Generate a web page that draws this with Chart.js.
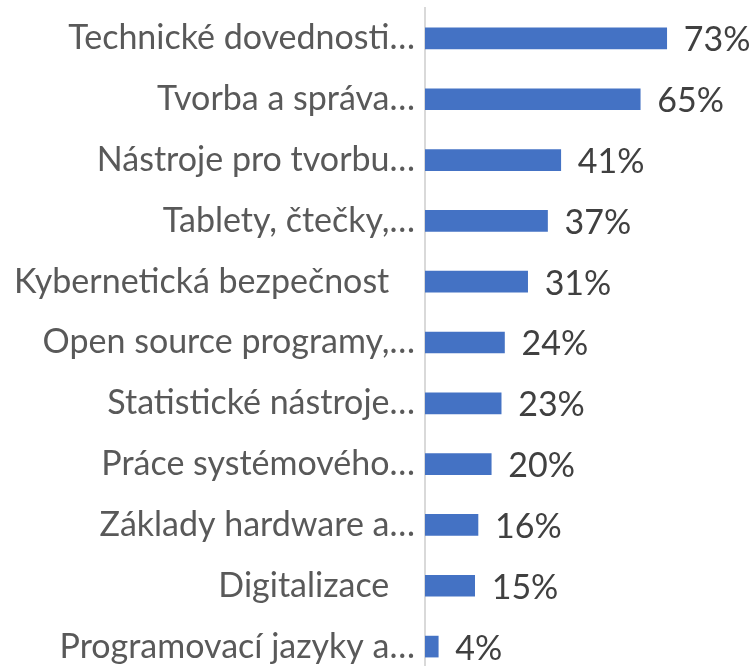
<!DOCTYPE html>
<html>
<head>
<meta charset="utf-8">
<script src="https://cdn.jsdelivr.net/npm/chart.js@4/dist/chart.umd.min.js"></script>
<style>
html,body{margin:0;padding:0;background:#fff;overflow:hidden;width:751px;height:666px;}
canvas{display:block;}
</style>
</head>
<body>
<canvas id="c" width="751" height="678"></canvas>
<script>
const categories = [
  "Technické dovednosti…",
  "Tvorba a správa…",
  "Nástroje pro tvorbu…",
  "Tablety, čtečky,…",
  "Kybernetická bezpečnost\u2002 ",
  "Open source programy,…",
  "Statistické nástroje…",
  "Práce systémového…",
  "Základy hardware a…",
  "Digitalizace\u2002 ",
  "Programovací jazyky a…"
];
const values = [73, 65, 41, 37, 31, 24, 23, 20, 16, 15, 4];
const valueLabels = ["73%", "65%", "41%", "37%", "31%", "24%", "23%", "20%", "16%", "15%", "4%"];

const FONT = "Lato, 'Open Sans', sans-serif";
const FONT_SIZE = 34;

const dataLabelPlugin = {
  id: 'dataLabels',
  afterDatasetsDraw(chart) {
    const ctx = chart.ctx;
    const meta = chart.getDatasetMeta(0);
    ctx.save();
    ctx.font = FONT_SIZE + "px " + FONT;
    ctx.fillStyle = "#404040";
    ctx.textAlign = "left";
    ctx.textBaseline = "middle";
    meta.data.forEach((bar, i) => {
      ctx.fillText(valueLabels[i], bar.x + 17, bar.y + 2);
    });
    ctx.restore();
  }
};

new Chart(document.getElementById('c'), {
  type: 'bar',
  data: {
    labels: categories,
    datasets: [{
      data: values,
      backgroundColor: '#4472C4',
      borderWidth: 0,
      barThickness: 21
    }]
  },
  options: {
    indexAxis: 'y',
    responsive: false,
    animation: false,
    devicePixelRatio: 1,
    layout: { padding: { top: 8, right: 28, bottom: 1, left: 0 } },
    plugins: { legend: { display: false }, tooltip: { enabled: false } },
    scales: {
      x: { display: false, min: 0, max: 90 },
      y: {
        grid: { display: false },
        border: { display: true, color: '#d9d9d9', width: 2 },
        ticks: {
          color: '#595959',
          padding: 2,
          font: { family: FONT, size: FONT_SIZE }
        },
        afterFit(scale) {
          scale.width = 425;
          scale.paddingTop = 0;
          scale.paddingBottom = 0;
        }
      }
    }
  },
  plugins: [dataLabelPlugin]
});
</script>
</body>
</html>
